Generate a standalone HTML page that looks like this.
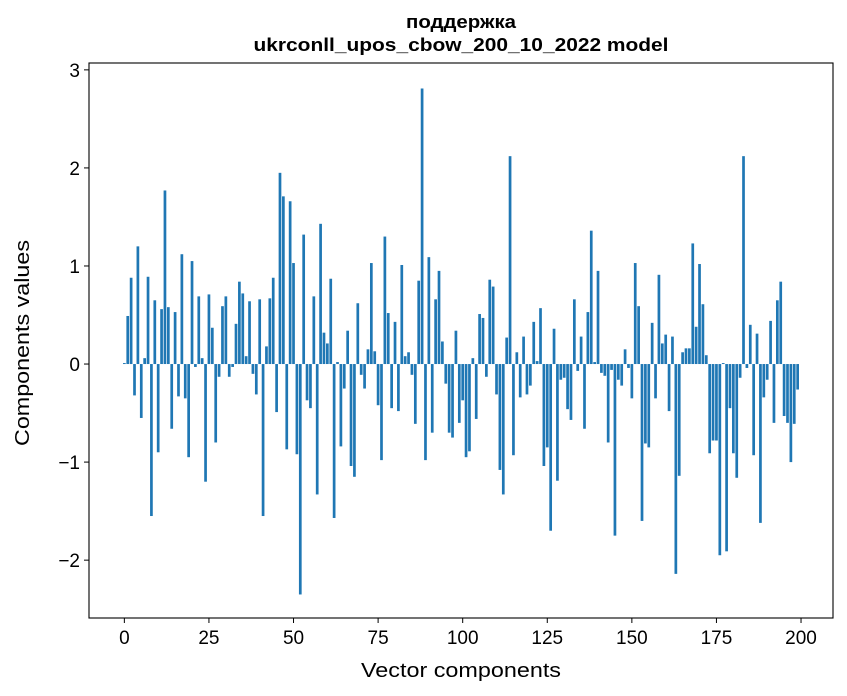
<!DOCTYPE html>
<html><head><meta charset="utf-8"><style>
body{margin:0;background:#fff;}
svg{display:block;font-family:"Liberation Sans","DejaVu Sans",sans-serif;}
</style></head><body>
<svg id="chart" width="847" height="696" viewBox="0 0 847 696" xmlns="http://www.w3.org/2000/svg">
<rect width="847" height="696" fill="#fff"/>
<text x="461" y="28" text-anchor="middle" font-size="18" font-weight="bold" textLength="110" lengthAdjust="spacingAndGlyphs">поддержка</text>
<text x="461" y="51" text-anchor="middle" font-size="18" font-weight="bold" textLength="415" lengthAdjust="spacingAndGlyphs">ukrconll_upos_cbow_200_10_2022 model</text>
<g id="bars"></g>
<g id="axes"></g>
<rect x="89" y="63" width="744" height="555" fill="none" stroke="#000" stroke-width="1.1"/>
<text x="461" y="677" text-anchor="middle" font-size="20" textLength="200" lengthAdjust="spacingAndGlyphs">Vector components</text>
<text transform="translate(29,343) rotate(-90)" text-anchor="middle" font-size="20" textLength="206" lengthAdjust="spacingAndGlyphs">Components values</text>
</svg>
<script>
const values = [0.01,0.49,0.88,-0.32,1.20,-0.55,0.06,0.89,-1.55,0.65,
-0.90,0.56,1.77,0.58,-0.66,0.53,-0.33,1.12,-0.35,-0.95,
1.05,-0.03,0.69,0.06,-1.20,0.71,0.37,-0.80,-0.13,0.59,
0.69,-0.13,-0.03,0.41,0.84,0.72,0.08,0.64,-0.10,-0.31,
0.66,-1.55,0.18,0.67,0.88,-0.49,1.95,1.71,-0.87,1.66,
1.03,-0.92,-2.35,1.32,-0.37,-0.45,0.69,-1.33,1.43,0.32,
0.21,0.87,-1.57,0.02,-0.84,-0.25,0.34,-1.04,-1.15,0.62,
-0.11,-0.25,0.15,1.03,0.13,-0.42,-0.98,1.30,0.52,-0.45,
0.43,-0.48,1.01,0.08,0.12,-0.11,-0.61,0.85,2.81,-0.98,
1.09,-0.70,0.66,0.95,0.23,-0.20,-0.70,-0.75,0.34,-0.60,
-0.37,-0.95,-0.89,0.06,-0.56,0.51,0.47,-0.13,0.86,0.79,
-0.31,-1.08,-1.33,0.27,2.12,-0.93,0.12,-0.34,0.28,-0.31,
-0.22,0.43,0.03,0.57,-1.04,-0.85,-1.70,0.36,-1.19,-0.16,
-0.14,-0.46,-0.57,0.66,-0.07,0.28,-0.66,0.53,1.36,0.02,
0.95,-0.09,-0.12,-0.80,-0.06,-1.75,-0.16,-0.22,0.15,-0.04,
-0.35,1.03,0.59,-1.60,-0.81,-0.85,0.42,-0.35,0.91,0.21,
0.30,-0.48,0.28,-2.14,-1.14,0.12,0.16,0.16,1.23,0.38,
1.02,0.61,0.09,-0.91,-0.78,-0.78,-1.95,0.01,-1.91,-0.45,
-0.91,-1.16,-0.14,2.12,-0.04,0.40,-0.93,0.31,-1.62,-0.34,
-0.16,0.44,-0.60,0.65,0.84,-0.53,-0.60,-1.00,-0.61,-0.26];
const xTicks = [0,25,50,75,100,125,150,175,200];
const yTicks = [-2,-1,0,1,2,3];
const yTickLabels = ["\u22122","\u22121","0","1","2","3"];

const X0=89,X1=833,Y0=63,Y1=618;
const xMin=-10.45,xMax=209.45,yMin=-2.59,yMax=3.07;
function sx(v){return X0+(v-xMin)/(xMax-xMin)*(X1-X0);}
function sy(v){return Y1-(v-yMin)/(yMax-yMin)*(Y1-Y0);}
const NS="http://www.w3.org/2000/svg";
const gb=document.getElementById('bars');
values.forEach((v,i)=>{
  const r=document.createElementNS(NS,'rect');
  const xl=sx(i-0.4), xr=sx(i+0.4);
  const ya=sy(Math.max(v,0)), yb=sy(Math.min(v,0));
  r.setAttribute('x',xl);r.setAttribute('width',xr-xl);
  r.setAttribute('y',ya);r.setAttribute('height',Math.max(yb-ya,0.3));
  r.setAttribute('fill','#1f77b4');
  
  
  gb.appendChild(r);
});
const ga=document.getElementById('axes');
xTicks.forEach(t=>{
  const x=sx(t);
  const l=document.createElementNS(NS,'line');
  l.setAttribute('x1',x);l.setAttribute('x2',x);l.setAttribute('y1',Y1);l.setAttribute('y2',Y1+5);
  l.setAttribute('stroke','#000');
  
  
  ga.appendChild(l);
  const tx=document.createElementNS(NS,'text');
  tx.setAttribute('x',x);tx.setAttribute('y',Y1+26);tx.setAttribute('text-anchor','middle');tx.setAttribute('font-size','19');
  tx.textContent=t;
  
  
  ga.appendChild(tx);
});
yTicks.forEach((t,k)=>{
  const y=sy(t);
  const l=document.createElementNS(NS,'line');
  l.setAttribute('x1',X0-5);l.setAttribute('x2',X0);l.setAttribute('y1',y);l.setAttribute('y2',y);
  l.setAttribute('stroke','#000');
  
  
  ga.appendChild(l);
  const tx=document.createElementNS(NS,'text');
  tx.setAttribute('x',X0-9);tx.setAttribute('y',y+7);tx.setAttribute('text-anchor','end');tx.setAttribute('font-size','19');
  tx.textContent=yTickLabels[k];
  
  
  ga.appendChild(tx);
});
</script>
</body></html>
